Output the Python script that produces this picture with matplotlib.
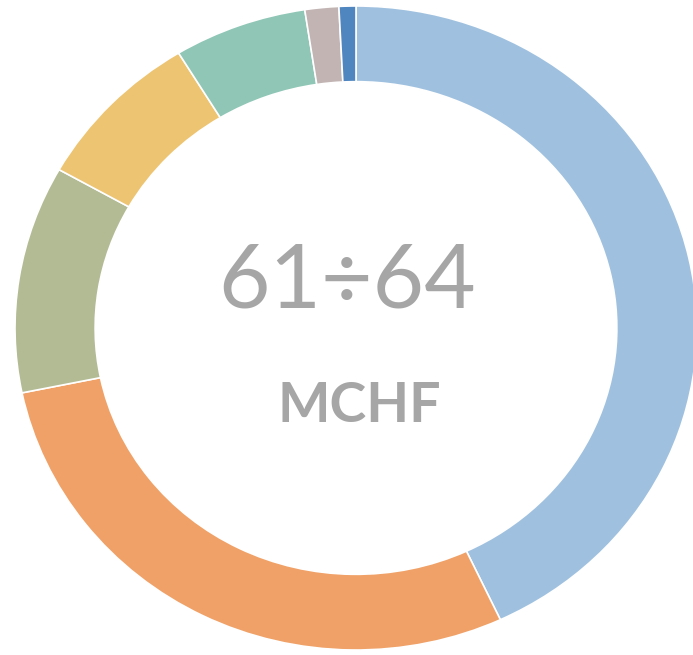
import matplotlib
matplotlib.use("Agg")
import matplotlib.pyplot as plt

plt.rcParams["font.family"] = ["Lato", "DejaVu Sans"]

# shares, clockwise from 12 o'clock
labels = ["A", "B", "C", "D", "E", "F", "G"]
shares = [43.0, 28.7, 11.4, 8.1, 6.3, 1.6, 0.8]
colors = ["#9fc1df", "#f0a167", "#b3bb94", "#edc472", "#8fc6b6", "#c1b4b3", "#4f86c0"]

center_text = "61÷64"
unit_text = "MCHF"

fig = plt.figure(figsize=(6.93, 6.55), dpi=100)
ax = fig.add_axes([15 / 693, 5 / 655, 682 / 693, 644 / 655])

ax.pie(shares, colors=colors, startangle=90, counterclock=False,
       radius=1.0, wedgeprops=dict(width=0.235, edgecolor="white", linewidth=1.2))
ax.set_aspect("auto")
ax.set_xlim(-1, 1)
ax.set_ylim(-1, 1)
ax.axis("off")

fig.text(0.5007, 1 - 307 / 655, center_text, ha="center", va="baseline",
         fontsize=64, color="#a6a6a6")
fig.text(0.519, 1 - 422 / 655, unit_text, ha="center", va="baseline",
         fontsize=40, fontweight="bold", color="#a6a6a6")

fig.savefig("out.png", dpi=100, facecolor="white")
